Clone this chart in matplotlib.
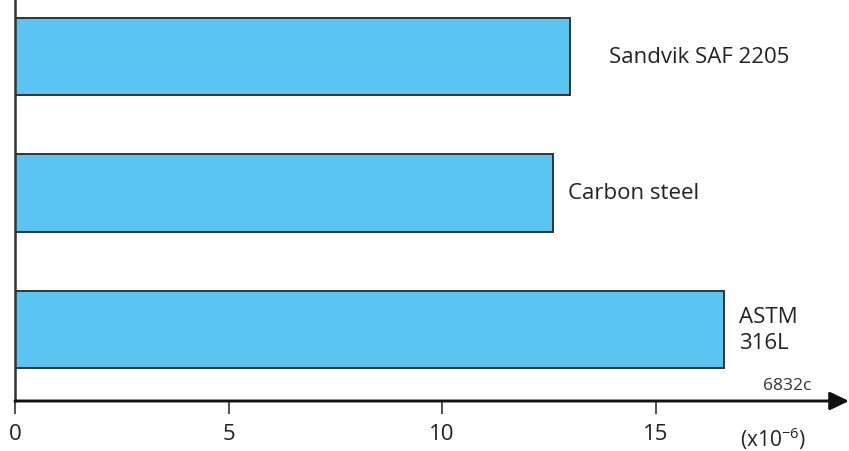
import numpy as np
import matplotlib.pyplot as plt

# =======================================================
# Data
# =======================================================
materials = ["ASTM\n316L", "Carbon steel", "Sandvik SAF 2205"]
expansion = [16.6, 12.6, 13.0]          # x10^-6
tick_values = [0, 5, 10, 15]

# =======================================================
# Style
# =======================================================
plt.rcParams['font.family'] = ['Open Sans', 'DejaVu Sans']
plt.rcParams['mathtext.fontset'] = 'custom'
plt.rcParams['mathtext.rm'] = 'Open Sans'
plt.rcParams['mathtext.default'] = 'rm'
BAR_COLOUR = "#5BC5F2"
LINE_COLOUR = "#333333"
TEXT_COLOUR = "#222222"

fig = plt.figure(figsize=(8.49, 4.52), dpi=100)
ax = fig.add_axes([15 / 849, 50 / 452, 834 / 849, 402 / 452])

y = np.arange(len(materials))
ax.barh(y, expansion, height=0.57, color=BAR_COLOUR,
        edgecolor=LINE_COLOUR, linewidth=1.4, zorder=2)

ax.set_xlim(0, 19.53)
ax.set_ylim(-0.524, 2.421)

# labels to the right of each bar (offsets in points)
label_offsets = [11, 11, 28]
for yi, val, name, off in zip(y, expansion, materials, label_offsets):
    ax.annotate(name, xy=(val, yi), xytext=(off, 0), textcoords='offset points',
                ha='left', va='center', fontsize=16, color=TEXT_COLOUR,
                linespacing=1.3)

# axes: left spine plain, bottom as an arrow
for side in ['top', 'right', 'bottom']:
    ax.spines[side].set_visible(False)
ax.spines['left'].set_color(LINE_COLOUR)
ax.spines['left'].set_linewidth(1.8)
ax.annotate("", xy=(1.0, 0), xytext=(0, 0), xycoords='axes fraction',
            arrowprops=dict(arrowstyle='-|>,head_length=1.15,head_width=0.55',
                            color="#111111", lw=2.1, shrinkA=0, shrinkB=0))

ax.set_yticks([])
ax.set_xticks(tick_values)
ax.set_xticklabels([str(t) for t in tick_values])
ax.tick_params(axis='x', direction='out', length=9, width=1.2,
               color=LINE_COLOUR, labelsize=16, pad=7, labelcolor=TEXT_COLOUR)

fig.text(787 / 849, 1 - 386 / 452, "6832c", ha='center', va='center',
         fontsize=12.5, color="#333333")
fig.text(773 / 849, 1 - 439 / 452, "(x10$^{-6}$)", ha='center', va='center',
         fontsize=15, color=TEXT_COLOUR)

fig.savefig("out.png", dpi=100)
